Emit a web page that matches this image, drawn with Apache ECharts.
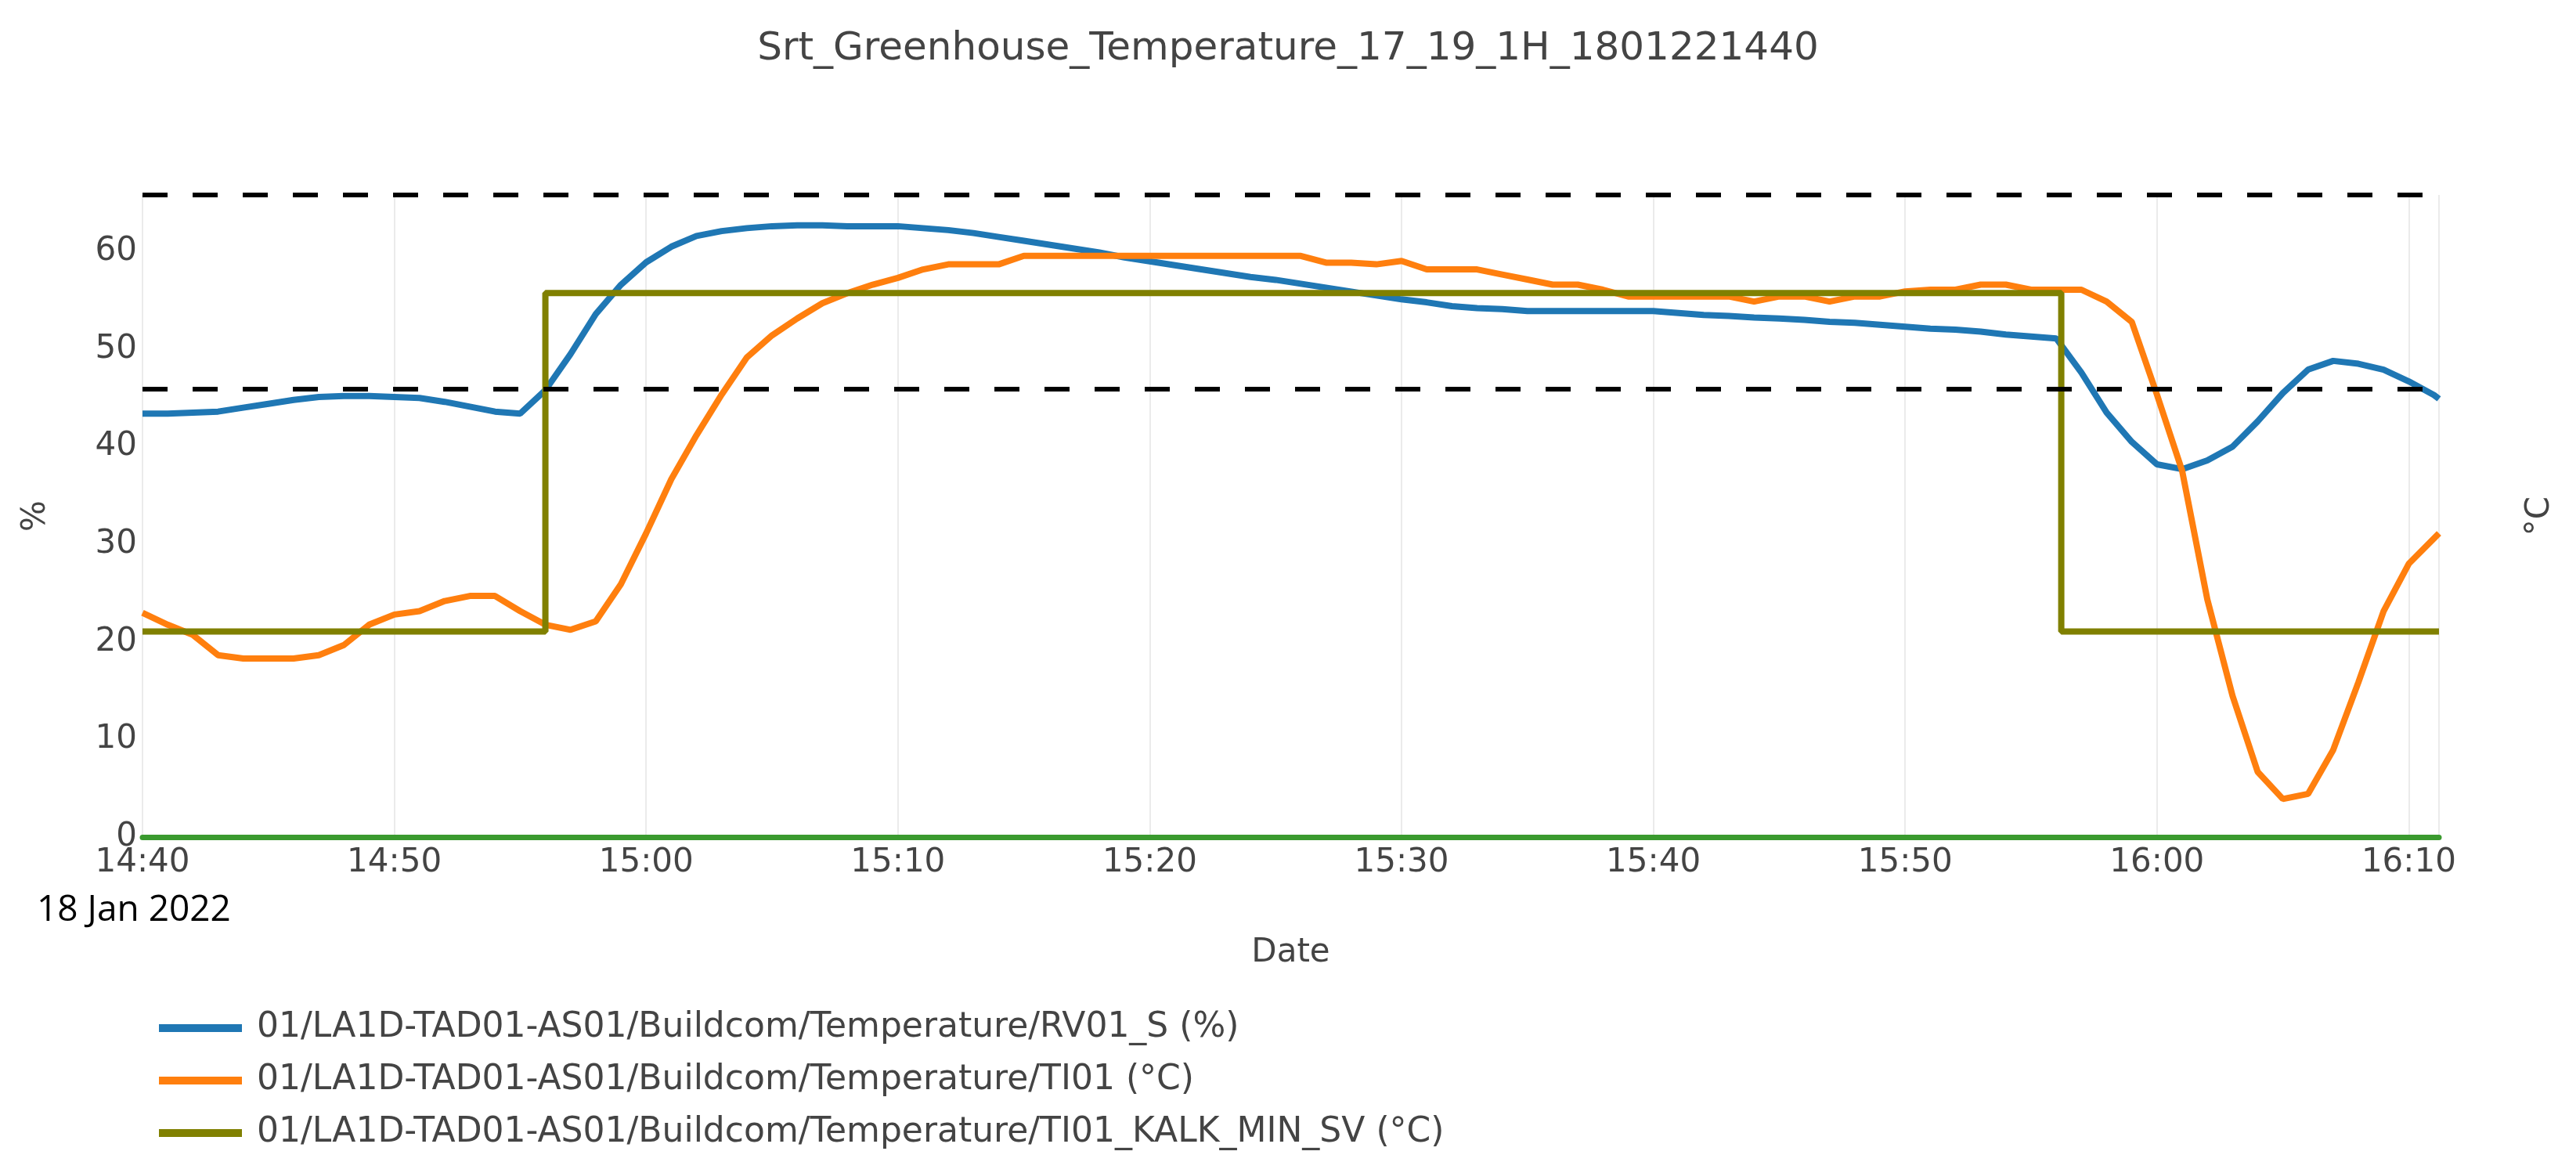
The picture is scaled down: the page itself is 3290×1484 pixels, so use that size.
<!DOCTYPE html>
<html>
<head>
<meta charset="utf-8">
<script src="https://cdn.jsdelivr.net/npm/echarts@6/dist/echarts.min.js"></script>
<style>html,body{margin:0;padding:0;background:#fff}#c{width:3290px;height:1484px}</style>
</head>
<body>
<div id="c"></div>
<script>
// sample times: minutes after 14:00 on 18 Jan 2022
const times = [40,41,42,43,44,45,46,47,48,49,50,51,52,53,54,55,56,57,58,59,
  60,61,62,63,64,65,66,67,68,69,70,71,72,73,74,75,76,77,78,79,
  80,81,82,83,84,85,86,87,88,89,90,91,92,93,94,95,96,97,98,99,
  100,101,102,103,104,105,106,107,108,109,110,111,112,113,114,115,116,117,118,119,
  120,121,122,123,124,125,126,127,128,129,130,131,131.2];

// 01/LA1D-TAD01-AS01/Buildcom/Temperature/RV01_S (%)
const rvValues = [43.4,43.4,43.5,43.6,44.0,44.4,44.8,45.1,45.2,45.2,
  45.1,45.0,44.6,44.1,43.6,43.4,45.8,49.5,53.6,56.6,
  58.9,60.5,61.6,62.1,62.4,62.6,62.7,62.7,62.6,62.6,
  62.6,62.4,62.2,61.9,61.5,61.1,60.7,60.3,59.9,59.4,
  59.0,58.6,58.2,57.8,57.4,57.1,56.7,56.3,55.9,55.5,
  55.1,54.8,54.4,54.2,54.1,53.9,53.9,53.9,53.9,53.9,
  53.9,53.7,53.5,53.4,53.25,53.15,53.0,52.8,52.7,52.5,
  52.3,52.1,52.0,51.8,51.5,51.3,51.1,47.6,43.5,40.5,
  38.2,37.7,38.6,40.0,42.6,45.5,47.9,48.8,48.5,47.9,
  46.7,45.3,44.9];

// 01/LA1D-TAD01-AS01/Buildcom/Temperature/TI01 (°C)
const tiValues = [17.11,17.04,16.98,16.86,16.84,16.84,16.84,16.86,16.92,17.04,
  17.10,17.12,17.18,17.21,17.21,17.12,17.04,17.01,17.06,17.28,
  17.58,17.90,18.16,18.40,18.62,18.75,18.85,18.94,19.00,19.05,
  19.09,19.14,19.17,19.17,19.17,19.22,19.22,19.22,19.22,19.22,
  19.22,19.22,19.22,19.22,19.22,19.22,19.22,19.18,19.18,19.17,
  19.19,19.14,19.14,19.14,19.11,19.08,19.05,19.05,19.02,18.98,
  18.98,18.98,18.98,18.98,18.95,18.98,18.98,18.95,18.98,18.98,
  19.01,19.02,19.02,19.05,19.05,19.02,19.02,19.02,18.95,18.83,
  18.40,17.95,17.19,16.62,16.17,16.01,16.04,16.30,16.70,17.12,
  17.40,17.55,17.58];

// 01/LA1D-TAD01-AS01/Buildcom/Temperature/TI01_KALK_MIN_SV (°C)
const kalkTimes = [40, 56, 116.2, 131.2];
const kalkValues = [17, 19, 17, 17];

// dashed limit lines (left axis, %)
const limitValues = [45.9, 65.8];

const seriesNames = [
  '01/LA1D-TAD01-AS01/Buildcom/Temperature/RV01_S (%)',
  '01/LA1D-TAD01-AS01/Buildcom/Temperature/TI01 (°C)',
  '01/LA1D-TAD01-AS01/Buildcom/Temperature/TI01_KALK_MIN_SV (°C)'
];
const xTickValues = [40,50,60,70,80,90,100,110,120,130];
const xTickLabels = ['14:40','14:50','15:00','15:10','15:20','15:30','15:40','15:50','16:00','16:10'];
const leftTickLabels = ['0','10','20','30','40','50','60'];
const rightTickLabels = ['16','17','18','19'];

const FONT = 'DejaVu Sans';
const chart = echarts.init(document.getElementById('c'), null, {renderer: 'canvas'});

const zip = (xs, ys) => xs.map((x, i) => [x, ys[i]]);

chart.setOption({
  animation: false,
  backgroundColor: '#fff',
  textStyle: {fontFamily: FONT},
  title: {
    text: 'Srt_Greenhouse_Temperature_17_19_1H_1801221440',
    left: 'center', top: 38, padding: 0,
    textStyle: {fontFamily: FONT, fontSize: 50, fontWeight: 'normal', color: '#444'}
  },
  grid: {left: 182, right: 175, top: 249, bottom: 415, containLabel: false},
  legend: {
    orient: 'vertical', left: 198, top: 1286,
    itemWidth: 106, itemHeight: 10, itemGap: 23,
    icon: 'rect',
    data: seriesNames,
    textStyle: {fontFamily: FONT, fontSize: 44, color: '#444', lineHeight: 44, padding: [0,0,0,14]}
  },
  xAxis: {
    type: 'value', min: 40, max: 131.2, interval: 10,
    name: 'Date', nameLocation: 'middle', nameGap: 127,
    nameTextStyle: {fontFamily: FONT, fontSize: 42, color: '#444'},
    axisLine: {show: true, onZero: false, lineStyle: {color: '#3a9a2e', width: 7}},
    axisTick: {show: false},
    axisLabel: {
      fontFamily: FONT, fontSize: 42, color: '#444', margin: 12,
      showMaxLabel: false,
      formatter: v => { const i = xTickValues.indexOf(Math.round(v)); return (i >= 0 && Math.abs(v - xTickValues[i]) < 1e-6) ? xTickLabels[i] : ''; }
    },
    splitLine: {show: true, lineStyle: {color: '#ebebeb', width: 2}}
  },
  yAxis: [{
    type: 'value', min: 0, max: 65.8, interval: 10, position: 'left',
    name: '%', nameLocation: 'middle', nameGap: 115, nameRotate: 90,
    nameTextStyle: {fontFamily: FONT, fontSize: 42, color: '#444'},
    axisLine: {show: false}, axisTick: {show: false}, splitLine: {show: false},
    axisLabel: {
      fontFamily: FONT, fontSize: 42, color: '#444', margin: 7, showMaxLabel: false,
      formatter: v => { const i = Math.round(v / 10); return (Math.abs(v - i * 10) < 1e-6 && leftTickLabels[i] !== undefined) ? leftTickLabels[i] : ''; }
    }
  }, {
    type: 'value', min: 15.785, max: 19.58, interval: 1, position: 'right',
    name: '°C', nameLocation: 'middle', nameGap: 108, nameRotate: 90,
    nameTextStyle: {fontFamily: FONT, fontSize: 42, color: '#444'},
    axisLine: {show: false}, axisTick: {show: false}, splitLine: {show: false},
    axisLabel: {
      fontFamily: FONT, fontSize: 42, color: '#444', margin: 8,
      showMinLabel: false, showMaxLabel: false,
      formatter: v => { const i = Math.round(v) - 16; return (Math.abs(v - Math.round(v)) < 1e-6 && rightTickLabels[i] !== undefined) ? rightTickLabels[i] : ''; }
    }
  }],
  graphic: [{
    type: 'text', left: 47, top: 1140,
    style: {text: '18 Jan 2022', fontFamily: 'Open Sans', fontSize: 46, fill: '#000'}
  }],
  series: [{
    name: seriesNames[0], type: 'line', yAxisIndex: 0, z: 2,
    data: zip(times, rvValues), showSymbol: false, symbol: 'none',
    color: '#1f77b4', lineStyle: {width: 8, color: '#1f77b4'},
    markLine: {
      silent: true, symbol: 'none', z: 10,
      label: {show: false},
      lineStyle: {color: '#000', width: 6, type: [32, 32]},
      data: limitValues.map(v => ({yAxis: v}))
    }
  }, {
    name: seriesNames[1], type: 'line', yAxisIndex: 1, z: 3,
    data: zip(times, tiValues), showSymbol: false, symbol: 'none',
    color: '#ff7f0e', lineStyle: {width: 8, color: '#ff7f0e'}
  }, {
    name: seriesNames[2], type: 'line', yAxisIndex: 1, z: 4,
    data: zip(kalkTimes, kalkValues), showSymbol: false, symbol: 'none', step: 'end',
    color: '#808000', lineStyle: {width: 8, color: '#808000'}
  }]
});
</script>
</body>
</html>
